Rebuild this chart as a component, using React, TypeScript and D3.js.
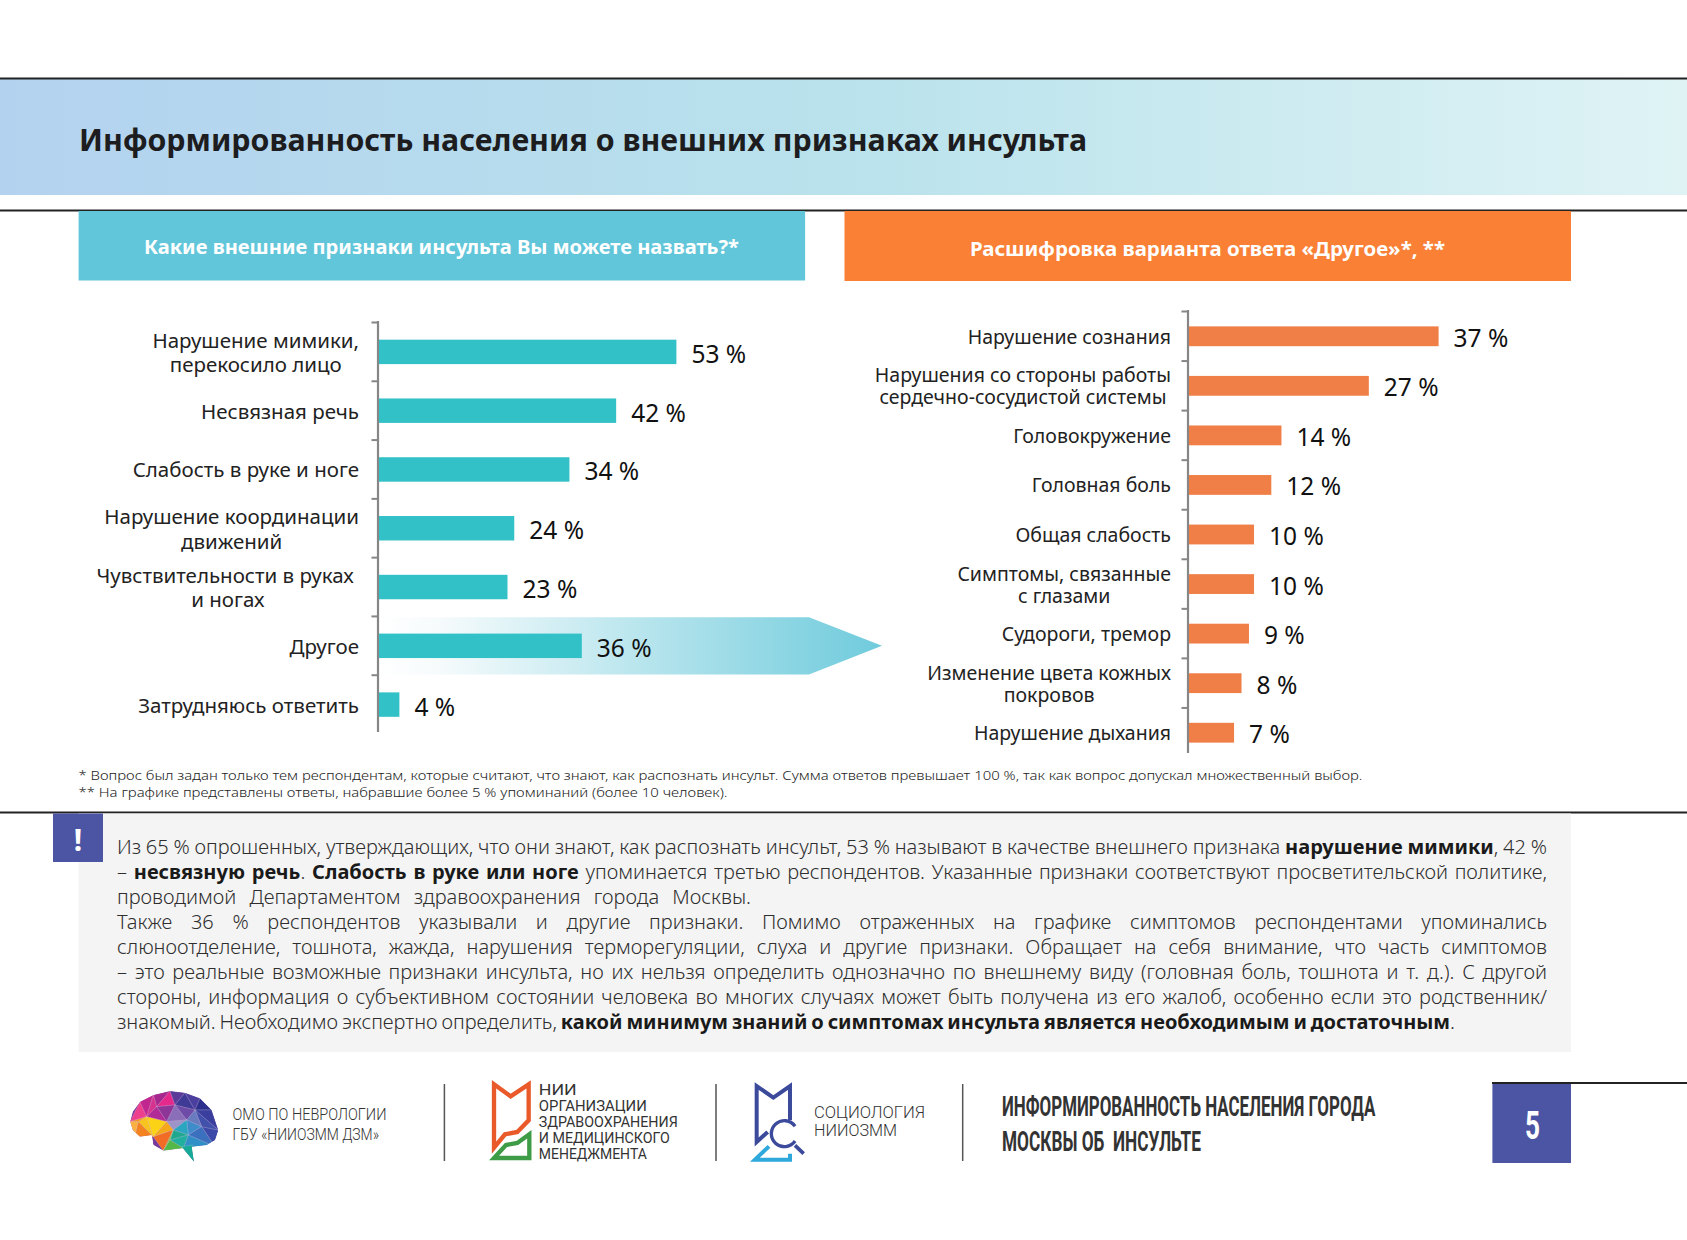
import React, { useRef, useEffect } from "react";
import * as d3 from "d3";

const BASE_FONT = "'Noto Sans', 'Open Sans', sans-serif";
const NARROW_FONT = "'Roboto', 'Noto Sans', sans-serif";

// left chart
const leftLabels = [
  ["Нарушение мимики,", "перекосило лицо"],
  ["Несвязная речь"],
  ["Слабость в руке и ноге"],
  ["Нарушение координации", "движений"],
  ["Чувствительности в руках\u00a0", "и ногах"],
  ["Другое"],
  ["Затрудняюсь ответить"],
];
const leftValues = [53, 42.3, 34, 24.2, 23, 36.2, 3.8];

// right chart
const rightLabels = [
  ["Нарушение сознания"],
  ["Нарушения со стороны работы", "сердечно-сосудистой системы"],
  ["Головокружение"],
  ["Головная боль"],
  ["Общая слабость"],
  ["Симптомы, связанные", "с глазами"],
  ["Судороги, тремор"],
  ["Изменение цвета кожных", "покровов"],
  ["Нарушение дыхания"],
];
const rightValues = [37, 26.7, 13.8, 12.3, 9.75, 9.75, 9, 7.9, 6.8];

const footnotes = [
  "* Вопрос был задан только тем респондентам, которые считают, что знают, как распознать инсульт. Сумма ответов превышает 100\u00a0%, так как вопрос допускал множественный выбор.",
  "** На графике представлены ответы, набравшие более 5\u00a0% упоминаний (более 10 человек).",
];

// [text, bold]
const noteLines: [string, boolean][][] = [
  [
    ["Из 65\u00a0% опрошенных, утверждающих, что они знают, как распознать инсульт, 53\u00a0% называют в качестве внешнего признака ", false],
    ["нарушение мимики", true],
    [", 42\u00a0%", false],
  ],
  [
    ["– ", false],
    ["несвязную речь", true],
    [". ", false],
    ["Слабость в руке или ноге", true],
    [" упоминается третью респондентов. Указанные признаки соответствуют просветительской политике,", false],
  ],
  [["проводимой Департаментом здравоохранения города Москвы.", false]],
  [["Также 36\u00a0% респондентов указывали и другие признаки. Помимо отраженных на графике симптомов респондентами упоминались", false]],
  [["слюноотделение, тошнота, жажда, нарушения терморегуляции, слуха и другие признаки. Обращает на себя внимание, что часть симптомов", false]],
  [["– это реальные возможные признаки инсульта, но их нельзя определить однозначно по внешнему виду (головная боль, тошнота и т. д.). С другой", false]],
  [["стороны, информация о субъективном состоянии человека во многих случаях может быть получена из его жалоб, особенно если это родственник/", false]],
  [
    ["знакомый. Необходимо экспертно определить, ", false],
    ["какой минимум знаний о симптомах инсульта является необходимым и достаточным", true],
    [".", false],
  ],
];
const noteLineEnds = [1547, 1547, 751, 1547, 1547, 1547, 1547, 1455];

const footerTitle = ["ИНФОРМИРОВАННОСТЬ НАСЕЛЕНИЯ ГОРОДА", "МОСКВЫ ОБ  ИНСУЛЬТЕ"];
const niiLines = ["НИИ", "ОРГАНИЗАЦИИ", "ЗДРАВООХРАНЕНИЯ", "И МЕДИЦИНСКОГО", "МЕНЕДЖМЕНТА"];

// brain logo, low-poly pieces in zoomed logo units
const brainOutline = "30,125 38,95 60,65 100,45 150,33 195,38 240,55 275,90 295,150 285,180 260,195 215,200 222,245 188,205 130,212 100,195 95,165 60,170 38,150";
const brainPieces: [string, string][] = [
  ["30,125 60,65 80,110", "#ee3f8e"],
  ["30,125 80,110 55,125", "#f7941d"],
  ["30,125 55,125 45,170", "#fbb040"],
  ["60,65 100,45 80,110", "#c2268f"],
  ["100,45 150,33 110,80", "#a6288f"],
  ["80,110 100,45 110,80", "#d6338f"],
  ["150,33 165,75 110,80", "#e4288c"],
  ["150,33 195,38 165,75", "#5b3b99"],
  ["195,38 225,90 165,75", "#3f3a96"],
  ["195,38 240,55 225,90", "#4a3f9f"],
  ["240,55 275,90 225,90", "#2d2f8c"],
  ["275,90 295,150 225,90", "#3a3f9e"],
  ["295,150 285,200 245,140", "#3b4aa8"],
  ["225,90 295,150 245,140", "#4150ab"],
  ["110,80 165,75 140,125", "#8e3598"],
  ["80,110 110,80 140,125", "#b12c96"],
  ["165,75 225,90 200,120", "#6d4ba6"],
  ["165,75 200,120 140,125", "#8a6fb8"],
  ["200,120 225,90 245,140", "#6a7cc0"],
  ["140,125 200,120 160,150", "#9c93c9"],
  ["200,120 245,140 205,165", "#3f8ccb"],
  ["160,150 200,120 205,165", "#2ba6c0"],
  ["245,140 285,200 205,165", "#3a70bd"],
  ["205,165 285,200 190,205", "#2f8fc6"],
  ["55,125 80,110 100,170", "#f9c31f"],
  ["80,110 140,125 100,170", "#fbd216"],
  ["140,125 160,150 100,170", "#f6a81c"],
  ["45,170 55,125 100,170", "#f58220"],
  ["100,170 160,150 130,212", "#f26c25"],
  ["160,150 205,165 150,180", "#1fa88f"],
  ["150,180 205,165 190,205", "#21b0a0"],
  ["130,212 160,150 150,180", "#8cc63f"],
  ["130,212 150,180 190,205", "#54b848"],
  ["185,200 218,195 224,250", "#16a998"],
];

const fit = (sel: any, w: number) =>
  sel.attr("textLength", w).attr("lengthAdjust", "spacingAndGlyphs");

const App: React.FC = () => {
  const ref = useRef<SVGSVGElement | null>(null);

  useEffect(() => {
    const svg = d3.select(ref.current);
    svg.selectAll("*").remove();
    svg.attr("width", 1687).attr("height", 1240).attr("viewBox", "0 0 1687 1240");

    const defs = svg.append("defs");
    const band = defs.append("linearGradient").attr("id", "bandGrad");
    band.append("stop").attr("offset", "0%").attr("stop-color", "#b3d2ef");
    band.append("stop").attr("offset", "50%").attr("stop-color", "#b9e2ec");
    band.append("stop").attr("offset", "100%").attr("stop-color", "#dff3f5");
    const arrow = defs.append("linearGradient").attr("id", "arrowGrad");
    arrow.append("stop").attr("offset", "0%").attr("stop-color", "#ffffff");
    arrow.append("stop").attr("offset", "12%").attr("stop-color", "#f6fbfc");
    arrow.append("stop").attr("offset", "100%").attr("stop-color", "#6fcbdc");
    defs.append("clipPath").attr("id", "brainClip").append("polygon").attr("points", brainOutline);

    // header band
    svg.append("rect").attr("x", 0).attr("y", 79).attr("width", 1687).attr("height", 116).attr("fill", "url(#bandGrad)");
    [78.5, 210.5, 812.5].forEach((y) => {
      svg.append("line").attr("x1", 0).attr("x2", 1687).attr("y1", y).attr("y2", y).attr("stroke", "#222").attr("stroke-width", 2);
    });
    fit(
      svg.append("text").attr("x", 79).attr("y", 151).attr("font-family", BASE_FONT).attr("font-weight", 700).attr("font-size", 31).attr("fill", "#1d1d1f").text("Информированность населения о внешних признаках инсульта"),
      1008
    );

    // panel headers
    svg.append("rect").attr("x", 78.6).attr("y", 211).attr("width", 726.5).attr("height", 69.5).attr("fill", "#62c6da");
    fit(
      svg.append("text").attr("x", 144).attr("y", 254).attr("font-family", BASE_FONT).attr("font-weight", 700).attr("font-size", 19.5).attr("fill", "#fff").text("Какие внешние признаки инсульта Вы можете назвать?*"),
      595
    );
    svg.append("rect").attr("x", 844.5).attr("y", 211).attr("width", 726.5).attr("height", 70).attr("fill", "#f98035");
    fit(
      svg.append("text").attr("x", 970).attr("y", 256).attr("font-family", BASE_FONT).attr("font-weight", 700).attr("font-size", 19.5).attr("fill", "#fff").text("Расшифровка варианта ответа «Другое»*, **"),
      475
    );

    // gradient arrow behind "Другое"
    const yLeft = d3.scaleBand<number>().domain(d3.range(leftValues.length)).range([322.5, 734]).paddingInner(0.584).paddingOuter(0.292);
    const xLeft = d3.scaleLinear().domain([0, 53]).range([378, 676.4]);
    const other = leftLabels.findIndex((l) => l[0] === "Другое");
    const oc = (yLeft(other) as number) + yLeft.bandwidth() / 2;
    const oh = yLeft.step() / 2 - 0.8;
    svg.append("path")
      .attr("d", d3.line()([[xLeft(0), oc - oh], [809, oc - oh], [882, oc], [809, oc + oh], [xLeft(0), oc + oh]]) + "Z")
      .attr("fill", "url(#arrowGrad)");

    const drawChart = (
      labels: string[][],
      values: number[],
      y: d3.ScaleBand<number>,
      x: d3.ScaleLinear<number, number>,
      opts: { color: string; labelRight: number; fontSize: number; lineH: number; top: number; bottom: number; valueDy: number }
    ) => {
      const g = svg.append("g");
      const x0 = x(0);
      g.append("line").attr("x1", x0).attr("x2", x0).attr("y1", opts.top).attr("y2", opts.bottom).attr("stroke", "#868686").attr("stroke-width", 2.2);
      d3.range(labels.length).forEach((i) => {
        const ty = y.range()[0] + i * y.step();
        g.append("line").attr("x1", x0 - 6.5).attr("x2", x0).attr("y1", ty).attr("y2", ty).attr("stroke", "#868686").attr("stroke-width", 2);
      });
      g.selectAll("rect.bar")
        .data(values)
        .join("rect")
        .attr("class", "bar")
        .attr("x", x0 + 1)
        .attr("y", (_, i) => y(i) as number)
        .attr("width", (d) => x(d) - x0 - 1)
        .attr("height", y.bandwidth())
        .attr("fill", opts.color);
      g.selectAll("text.val")
        .data(values)
        .join("text")
        .attr("class", "val")
        .attr("x", (d) => x(d) + 15)
        .attr("y", (_, i) => (y(i) as number) + y.bandwidth() / 2 + opts.valueDy)
        .attr("dominant-baseline", "central")
        .attr("font-family", BASE_FONT)
        .attr("font-size", 24.5)
        .attr("fill", "#111")
        .text((d) => `${Math.round(d)} %`);
      labels.forEach((lines, i) => {
        const cy = (y(i) as number) + y.bandwidth() / 2;
        const nodes = lines.map((line, k) =>
          g.append("text")
            .attr("y", cy + (k - (lines.length - 1) / 2) * opts.lineH)
            .attr("dominant-baseline", "central")
            .attr("text-anchor", "middle")
            .attr("font-family", BASE_FONT)
            .attr("font-size", opts.fontSize)
            .attr("fill", "#222")
            .text(line)
        );
        const w = d3.max(nodes, (n) => (n.node() as SVGTextElement).getComputedTextLength()) as number;
        nodes.forEach((n) => n.attr("x", opts.labelRight - w / 2));
      });
    };

    drawChart(leftLabels, leftValues, yLeft, xLeft, { color: "#33c1c8", labelRight: 359, fontSize: 20.5, lineH: 24.6, top: 321, bottom: 732, valueDy: 1.5 });

    const yRight = d3.scaleBand<number>().domain(d3.range(rightValues.length)).range([311.5, 757.5]).paddingInner(0.6).paddingOuter(0.3);
    const xRight = d3.scaleLinear().domain([0, 37]).range([1188, 1438.6]);
    drawChart(rightLabels, rightValues, yRight, xRight, { color: "#f07f47", labelRight: 1171, fontSize: 19.5, lineH: 22, top: 310, bottom: 753, valueDy: 1 });

    // footnotes
    footnotes.forEach((t, i) => {
      fit(
        svg.append("text").attr("x", 78.5).attr("y", 780 + i * 16.7).attr("font-family", BASE_FONT).attr("font-weight", 300).attr("font-size", 12.7).attr("fill", "#222").text(t),
        i === 0 ? 1284 : 649
      );
    });

    // comment block
    svg.append("rect").attr("x", 78.6).attr("y", 813.5).attr("width", 1492.4).attr("height", 238.5).attr("fill", "#f4f4f4");
    svg.append("rect").attr("x", 53).attr("y", 813.5).attr("width", 50).attr("height", 48.5).attr("fill", "#4c55a4");
    svg.append("text").attr("x", 78).attr("y", 851).attr("text-anchor", "middle").attr("font-family", BASE_FONT).attr("font-weight", 700).attr("font-size", 30).attr("fill", "#fff").text("!");

    noteLines.forEach((segs, i) => {
      const t = svg.append("text")
        .attr("x", 117)
        .attr("y", 846 + i * 25)
        .attr("dominant-baseline", "central")
        .attr("font-family", BASE_FONT)
        .attr("font-size", 20)
        .attr("font-weight", 300)
        .attr("fill", "#2e2e2e");
      segs.forEach(([s, b]) => {
        t.append("tspan").attr("font-weight", b ? 700 : 300).attr("fill", b ? "#1a1a1a" : "#2e2e2e").text(s);
      });
      const len = (t.node() as SVGTextElement).getComputedTextLength();
      const gaps = (segs.map((d) => d[0]).join("").match(/[ \u00a0]/g) || []).length;
      t.attr("word-spacing", (noteLineEnds[i] - 117 - len) / gaps);
    });

    // footer: brain logo
    const brain = svg.append("g").attr("transform", "translate(120,1080) scale(0.3333)");
    const brainInner = brain.append("g").attr("clip-path", "url(#brainClip)");
    brainInner.append("polygon").attr("points", brainOutline).attr("fill", "#7a3a9b");
    brainPieces.forEach(([pts, color]) => {
      brainInner.append("polygon").attr("points", pts).attr("fill", color).attr("stroke", "#ffffff").attr("stroke-opacity", 0.35).attr("stroke-width", 1.5);
    });
    const footText = (t: string, x: number, y: number, w: number, size: number) =>
      fit(
        svg.append("text").attr("x", x).attr("y", y).attr("dominant-baseline", "central").attr("font-family", NARROW_FONT).attr("font-weight", 300).attr("font-size", size).attr("fill", "#333").text(t),
        w
      );
    footText("ОМО ПО НЕВРОЛОГИИ", 232.5, 1114, 154, 17);
    footText("ГБУ «НИИОЗММ ДЗМ»", 232.5, 1134, 146.5, 17);

    [444.4, 716, 962.7].forEach((x) => {
      svg.append("line").attr("x1", x).attr("x2", x).attr("y1", 1084).attr("y2", 1161).attr("stroke", "#555").attr("stroke-width", 1.5);
    });

    // footer: НИИ logo
    const nii = svg.append("g").attr("transform", "translate(480,1077) scale(0.3333)").attr("fill", "none").attr("stroke-linejoin", "miter");
    nii.append("path").attr("d", "M42,22 L92,58 L146,22 L146,130 L112,165 L75,172 L42,212 Z").attr("stroke", "#e9592a").attr("stroke-width", 13);
    nii.append("path").attr("d", "M148,172 L112,198 L78,204 L42,243 L148,243 Z").attr("stroke", "#3f9c46").attr("stroke-width", 13);
    niiLines.forEach((t, i) => {
      const w = [38, 108, 139, 131, 108][i];
      footText(t, 538.8, 1090 + i * 16, w, 15.5).attr("font-weight", 400);
    });

    // footer: sociology logo
    const soc = svg.append("g").attr("transform", "translate(745,1077) scale(0.3333)").attr("fill", "none");
    soc.append("path").attr("d", "M135,130 L135,27 L85,62 L35,27 L35,195 L68,165").attr("stroke", "#3c4a9c").attr("stroke-width", 12);
    soc.append("path").attr("d", "M72,208 L30,248 L135,248 L135,230").attr("stroke", "#2fa8dc").attr("stroke-width", 12);
    soc.append("path").attr("d", d3.arc()({ innerRadius: 34, outerRadius: 44, startAngle: 2.17, endAngle: 7.25 }) as string).attr("transform", "translate(118,170)").attr("fill", "#3c4a9c");
    soc.append("path").attr("d", "M150,205 L176,230").attr("stroke", "#3c4a9c").attr("stroke-width", 11);
    footText("СОЦИОЛОГИЯ", 814, 1112, 111, 16.5);
    footText("НИИОЗММ", 814, 1130, 83, 16.5);

    // footer: report title and page number
    footerTitle.forEach((t, i) => {
      fit(
        svg.append("text").attr("x", 1002).attr("y", 1107 + i * 35).attr("dominant-baseline", "central").attr("font-family", NARROW_FONT).attr("font-weight", 700).attr("font-size", 27).attr("fill", "#333").attr("xml:space", "preserve").text(t),
        i === 0 ? 373.4 : 199
      );
    });
    svg.append("line").attr("x1", 1492).attr("x2", 1687).attr("y1", 1083).attr("y2", 1083).attr("stroke", "#222").attr("stroke-width", 2);
    svg.append("rect").attr("x", 1492.4).attr("y", 1084).attr("width", 78.6).attr("height", 79).attr("fill", "#4c55a4");
    fit(
      svg.append("text").attr("x", 1525).attr("y", 1126).attr("dominant-baseline", "central").attr("font-family", NARROW_FONT).attr("font-weight", 700).attr("font-size", 38).attr("fill", "#fff").text("5"),
      15
    );
  }, []);

  return <svg ref={ref} style={{ position: "absolute", left: 0, top: 0, display: "block" }} />;
};

export default App;
